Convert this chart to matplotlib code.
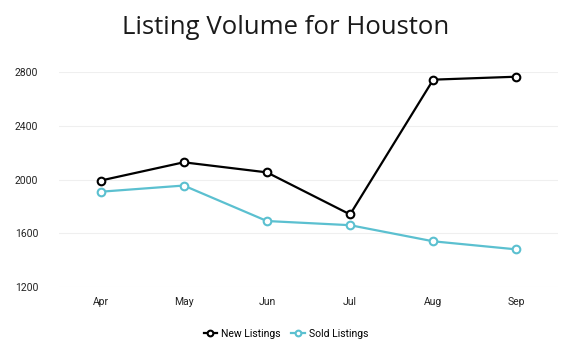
import numpy as np
import matplotlib.pyplot as plt

months = ['Apr', 'May', 'Jun', 'Jul', 'Aug', 'Sep']
new_listings = [1992, 2128, 2053, 1740, 2743, 2765]
sold_listings = [1909, 1955, 1691, 1660, 1540, 1480]
y_ticks = [1200, 1600, 2000, 2400, 2800]

black = '#000000'
teal = '#5bc0d0'

fig = plt.figure(figsize=(5.72, 3.53), dpi=100)
ax = fig.add_axes([59 / 572, 1 - 287 / 353, 499 / 572, 215 / 353])

x = np.arange(len(months))
ax.plot(x, new_listings, color=black, lw=1.6, marker='o', markersize=5.5,
        markerfacecolor='white', markeredgewidth=1.5, label='New Listings', clip_on=False, zorder=3)
ax.plot(x, sold_listings, color=teal, lw=1.6, marker='o', markersize=5.5,
        markerfacecolor='white', markeredgewidth=1.5, label='Sold Listings', clip_on=False, zorder=3)

ax.set_xlim(-0.5, len(months) - 0.5)
ax.set_ylim(1200, 2800)
ax.set_xticks(x)
ax.set_xticklabels(months, fontsize=7.5, family='Roboto', color='#222222')
ax.set_yticks(y_ticks)
ax.set_yticklabels([str(v) for v in y_ticks], fontsize=7.5, family='Roboto', color='#222222')
ax.tick_params(axis='both', length=0)
ax.tick_params(axis='y', pad=15)
ax.tick_params(axis='x', pad=7)
for s in ax.spines.values():
    s.set_visible(False)
ax.grid(axis='y', color='#efefef', lw=0.8)
ax.set_axisbelow(True)

fig.text(0.5, 1 - 27 / 353, 'Listing Volume for Houston', ha='center', va='center',
         fontsize=18.5, family='Open Sans', color='#1a1a1a')

leg = fig.legend(loc='center', bbox_to_anchor=(0.5, 1 - 334 / 353), ncol=2, frameon=False,
                 prop={'family': 'Roboto', 'size': 7.5}, handlelength=1.3, columnspacing=1.0,
                 handletextpad=0.4, markerscale=0.75)

fig.savefig('out.png', dpi=100)
